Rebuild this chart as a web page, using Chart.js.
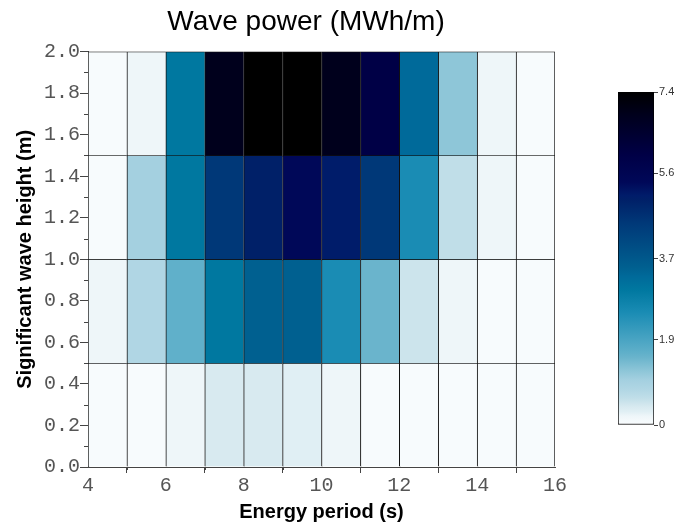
<!DOCTYPE html>
<html>
<head>
<meta charset="utf-8">
<script src="https://cdn.jsdelivr.net/npm/chart.js@4/dist/chart.umd.min.js"></script>
<style>
  body { margin: 0; background: #fff; }
  #wrap { position: relative; width: 684px; height: 531px; }
  #mainChart { position: absolute; left: 0; top: 0; }
  #barChart { position: absolute; left: 600px; top: 80px; }
</style>
</head>
<body>
<div id="wrap">
  <canvas id="mainChart" width="684" height="531"></canvas>
  <canvas id="barChart" width="84" height="360"></canvas>
</div>
<script>
// energy period bins (centres, s) and wave height bin edges (m)
const tePeriods = [4.5, 5.5, 6.5, 7.5, 8.5, 9.5, 10.5, 11.5, 12.5, 13.5, 14.5, 15.5];
const hsEdges = [0, 0.5, 1.0, 1.5, 2.0];

// wave power per bin (MWh/m), one list per Hs row, bottom to top
const power_0_05 = [0.05, 0.05, 0.2, 0.4, 0.4, 0.3, 0.2, 0.05, 0.05, 0.05, 0.05, 0.05];
const power_05_10 = [0.2, 0.8, 1.6, 3.0, 3.5, 3.5, 2.5, 1.5, 0.5, 0.2, 0.05, 0.05];
const power_10_15 = [0.05, 1.0, 3.0, 4.5, 5.0, 5.4, 5.1, 4.5, 2.5, 0.6, 0.2, 0.05];
const power_15_20 = [0.05, 0.2, 3.0, 6.9, 7.4, 7.4, 6.9, 6.0, 3.3, 1.2, 0.2, 0.05];
const powerRows = [power_0_05, power_05_10, power_10_15, power_15_20];

const colorbarTicks = [0, 1.9, 3.7, 5.6, 7.4];
const powerMax = 7.4;

// colour map: [value, colour]
const cmapStops = [
  [0, '#f9fcfd'], [0.05, '#f7fbfd'], [0.2, '#eef6f9'], [0.3, '#e0eff4'], [0.4, '#d8eaf0'],
  [0.5, '#cce4ec'], [0.6, '#c0dee8'], [0.8, '#b0d6e4'], [1.0, '#a4d0e0'], [1.2, '#8ec6d8'],
  [1.5, '#6ab4cc'], [1.6, '#60b0ca'], [2.5, '#1a8cb4'], [3.0, '#0078a0'], [3.3, '#006a9a'],
  [3.5, '#006090'], [4.5, '#003878'], [5.0, '#002068'], [5.1, '#001c6a'], [5.4, '#000858'],
  [6.0, '#000046'], [6.9, '#00001c'], [7.4, '#000000']
];

function hexRgb(h) {
  return [parseInt(h.slice(1, 3), 16), parseInt(h.slice(3, 5), 16), parseInt(h.slice(5, 7), 16)];
}

function colorFor(v) {
  for (let i = 1; i < cmapStops.length; i++) {
    if (v <= cmapStops[i][0]) {
      const [v0, c0] = cmapStops[i - 1];
      const [v1, c1] = cmapStops[i];
      const t = (v - v0) / (v1 - v0);
      const a = hexRgb(c0), b = hexRgb(c1);
      const rgb = a.map((x, k) => Math.round(x + (b[k] - x) * t));
      return 'rgb(' + rgb.join(',') + ')';
    }
  }
  return cmapStops[cmapStops.length - 1][1];
}

const cells = [];
powerRows.forEach(function (row, r) {
  row.forEach(function (v, c) {
    cells.push({ x: tePeriods[c], y: [hsEdges[r], hsEdges[r + 1]], v: v, last: c === row.length - 1 });
  });
});

const tickFont = { family: 'Liberation Mono', size: 20 };
const labelFont = { family: 'Liberation Sans', size: 20, weight: 'bold' };

// short ticks half way between the labelled ones
const minorTicks = {
  id: 'minorTicks',
  afterDraw(chart) {
    const { ctx } = chart;
    const x = chart.scales.x, y = chart.scales.y;
    ctx.save();
    ctx.strokeStyle = '#444';
    ctx.lineWidth = 1;
    ctx.beginPath();
    for (let i = 0; i < x.ticks.length - 1; i++) {
      const px = Math.round(x.getPixelForValue((x.ticks[i].value + x.ticks[i + 1].value) / 2)) + 0.5;
      ctx.moveTo(px, x.top);
      ctx.lineTo(px, x.top + 3);
    }
    for (let i = 0; i < y.ticks.length - 1; i++) {
      const py = Math.round(y.getPixelForValue((y.ticks[i].value + y.ticks[i + 1].value) / 2)) + 0.5;
      ctx.moveTo(y.right, py);
      ctx.lineTo(y.right - 4, py);
    }
    ctx.stroke();
    ctx.restore();
  }
};

new Chart(document.getElementById('mainChart'), {
  type: 'bar',
  data: {
    datasets: [{
      data: cells,
      backgroundColor: ctx => colorFor(ctx.raw.v),
      borderColor: '#111',
      borderWidth: ctx => ({ left: 1, top: 1, right: ctx.raw.last ? 1 : 0, bottom: 0 }),
      borderSkipped: false,
      barPercentage: 1,
      categoryPercentage: 1,
      grouped: false
    }]
  },
  options: {
    responsive: false,
    animation: false,
    layout: { padding: { left: 0, right: 72, top: 0, bottom: 0 } },
    plugins: {
      legend: { display: false },
      tooltip: { enabled: false },
      title: {
        display: true,
        text: 'Wave power (MWh/m)',
        color: '#000',
        font: { family: 'Liberation Sans', size: 28, weight: 'normal' },
        padding: { top: 5, bottom: 13 }
      }
    },
    scales: {
      x: {
        type: 'linear',
        min: 4,
        max: 16,
        offset: false,
        afterFit: s => { s.height = 64; },
        ticks: { stepSize: 2, color: '#555', font: tickFont, padding: 1, maxRotation: 0 },
        grid: { drawOnChartArea: false, tickLength: 6, color: '#444' },
        border: { color: '#444' },
        title: { display: true, text: 'Energy period (s)', color: '#000', font: labelFont, padding: { top: 0, bottom: 7 } }
      },
      y: {
        min: 0,
        max: 2,
        afterFit: s => { s.width = 88; },
        ticks: { stepSize: 0.2, color: '#555', font: tickFont, padding: 0, callback: v => v.toFixed(1) },
        grid: { drawOnChartArea: false, tickLength: 8, color: '#444' },
        border: { color: '#444' },
        title: { display: true, text: 'Significant wave height (m)', color: '#000', font: labelFont, padding: { top: 13, bottom: 0 } }
      },
      spacer: {
        type: 'linear',
        position: 'right',
        display: true,
        afterFit: s => { s.width = 57; },
        ticks: { display: false },
        grid: { display: false },
        border: { display: false }
      }
    }
  },
  plugins: [minorTicks]
});

// colour bar
new Chart(document.getElementById('barChart'), {
  type: 'bar',
  data: {
    labels: [''],
    datasets: [{
      data: [[0, powerMax]],
      backgroundColor: function (ctx) {
        const area = ctx.chart.chartArea;
        if (!area) return '#ccc';
        const y = ctx.chart.scales.y;
        const g = ctx.chart.ctx.createLinearGradient(0, y.getPixelForValue(0), 0, y.getPixelForValue(powerMax));
        cmapStops.forEach(s => g.addColorStop(s[0] / powerMax, s[1]));
        return g;
      },
      borderColor: '#000',
      borderWidth: 1,
      borderSkipped: false,
      barPercentage: 1,
      categoryPercentage: 1
    }]
  },
  options: {
    responsive: false,
    animation: false,
    layout: { padding: { left: 18, right: 0, top: 12, bottom: 15 } },
    plugins: { legend: { display: false }, tooltip: { enabled: false } },
    scales: {
      x: { display: false },
      y: {
        position: 'right',
        min: 0,
        max: powerMax,
        afterFit: s => { s.width = 30; },
        afterBuildTicks: s => { s.ticks = colorbarTicks.map(v => ({ value: v })); },
        ticks: { color: '#333', font: { family: 'Liberation Sans', size: 11 }, padding: 1, callback: v => v === 0 ? '0' : v.toFixed(1) },
        grid: { drawOnChartArea: false, tickLength: 4, color: '#444' },
        border: { display: false }
      }
    }
  }
});
</script>
</body>
</html>
